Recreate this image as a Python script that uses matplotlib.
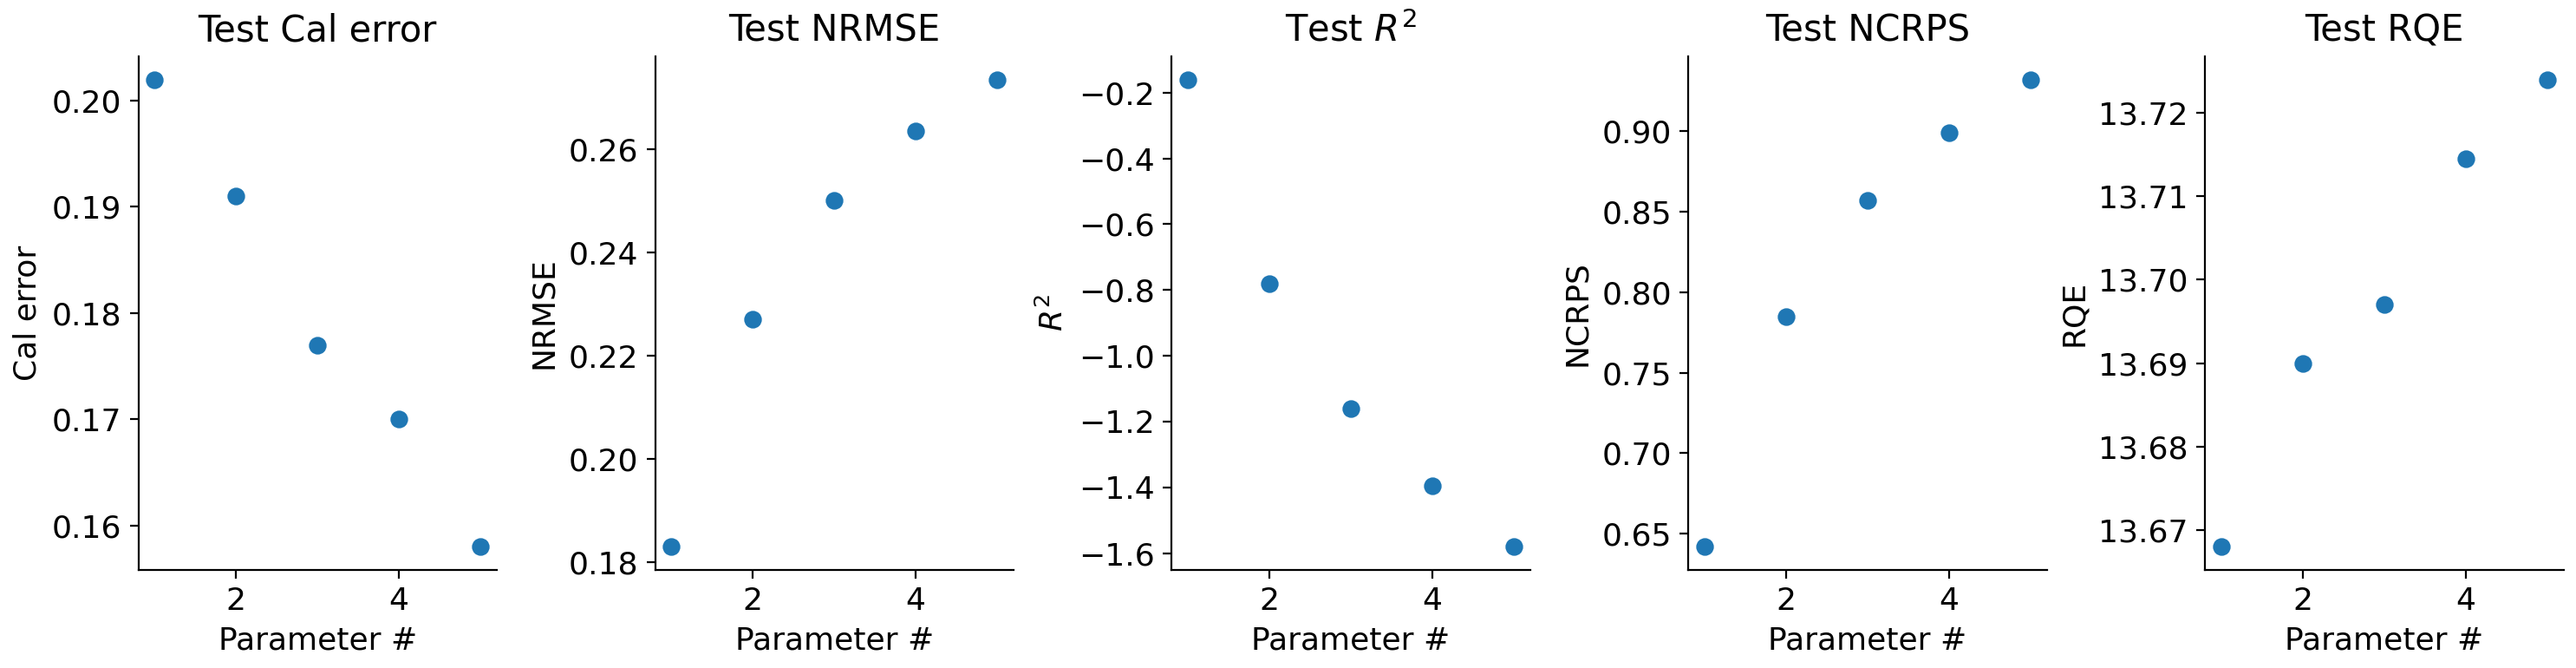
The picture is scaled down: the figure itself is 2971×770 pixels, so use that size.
import matplotlib
matplotlib.use("Agg")
import matplotlib.pyplot as plt

params = [1, 2, 3, 4, 5]
cal_error = [0.202, 0.191, 0.177, 0.170, 0.158]
nrmse = [0.183, 0.227, 0.250, 0.2635, 0.2735]
r2 = [-0.16, -0.78, -1.16, -1.395, -1.58]
ncrps = [0.642, 0.785, 0.857, 0.899, 0.932]
rqe = [13.668, 13.690, 13.697, 13.7145, 13.724]

panels = [
    ("Test Cal error", "Cal error", cal_error),
    ("Test NRMSE", "NRMSE", nrmse),
    ("Test $R^2$", "$R^2$", r2),
    ("Test NCRPS", "NCRPS", ncrps),
    ("Test RQE", "RQE", rqe),
]

plt.rcParams['font.size'] = 13
fig, axes = plt.subplots(1, 5, figsize=(14.855, 3.85), dpi=200)
for ax, (title, ylabel, vals) in zip(axes, panels):
    ax.scatter(params, vals, color='#1f77b4', s=40)
    ax.set_title(title, fontsize=15)
    ax.set_xlabel("Parameter #")
    ax.set_ylabel(ylabel)
    ax.set_xticks([2, 4])
    ax.spines['top'].set_visible(False)
    ax.spines['right'].set_visible(False)
fig.tight_layout(pad=0.4)
fig.savefig("out.png")
